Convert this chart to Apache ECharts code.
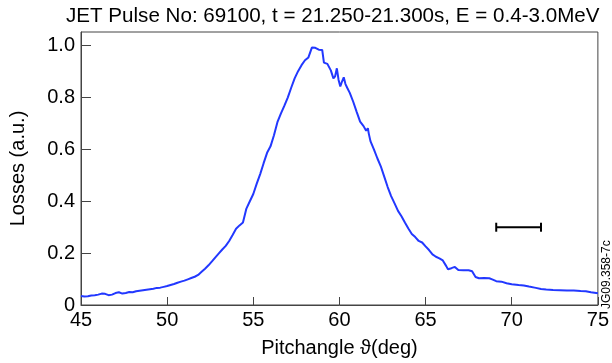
<!DOCTYPE html>
<html><head><meta charset="utf-8">
<script src="https://cdn.jsdelivr.net/npm/echarts@6/dist/echarts.min.js"></script>
<style>html,body{margin:0;padding:0;background:#fff}#c{width:612px;height:363px}</style>
</head><body><div id="c"></div>
<script>
const titleText = 'JET Pulse No: 69100, t = 21.250-21.300s, E = 0.4-3.0MeV';
const xName = 'Pitchangle \u03d1(deg)';
const yName = 'Losses (a.u.)';
const sideNote = 'JG09.358-7c';
const pitchAngle = [45.0,45.2,45.4,45.6,45.8,46.0,46.2,46.4,46.6,46.8,47.0,47.2,47.4,47.6,47.8,48.0,48.2,48.4,48.6,48.8,49.0,49.2,49.4,49.6,49.8,50.0,50.2,50.4,50.6,50.8,51.0,51.2,51.4,51.6,51.8,52.0,52.2,52.4,52.6,52.8,53.0,53.2,53.4,53.6,53.8,54.0,54.2,54.4,54.6,54.8,55.0,55.2,55.4,55.6,55.8,56.0,56.2,56.4,56.6,56.8,57.0,57.2,57.4,57.6,57.8,58.0,58.2,58.3,58.4,58.5,58.6,58.8,59.0,59.1,59.3,59.5,59.65,59.75,59.85,59.95,60.05,60.15,60.25,60.35,60.45,60.6,60.8,61.0,61.2,61.4,61.55,61.65,61.7,61.8,62.0,62.2,62.4,62.6,62.8,63.0,63.2,63.4,63.6,63.8,64.0,64.2,64.4,64.6,64.8,65.0,65.2,65.4,65.6,65.8,66.0,66.2,66.3,66.5,66.7,66.9,67.2,67.5,67.7,67.9,68.1,68.4,68.7,68.9,69.1,69.4,69.7,70.0,70.4,70.7,71.0,71.4,71.7,72.0,72.4,72.8,73.2,73.6,74.0,74.3,74.6,75.0];
const losses = [0.035,0.033,0.034,0.037,0.038,0.040,0.044,0.043,0.038,0.040,0.046,0.049,0.044,0.046,0.050,0.049,0.053,0.055,0.057,0.059,0.061,0.063,0.066,0.067,0.070,0.073,0.077,0.081,0.086,0.090,0.094,0.099,0.104,0.109,0.116,0.128,0.140,0.153,0.168,0.184,0.199,0.214,0.228,0.247,0.270,0.294,0.307,0.318,0.372,0.400,0.428,0.468,0.505,0.547,0.587,0.612,0.655,0.705,0.738,0.768,0.800,0.838,0.874,0.902,0.925,0.944,0.955,0.960,0.993,0.998,0.992,0.985,0.984,0.935,0.930,0.905,0.874,0.882,0.913,0.868,0.843,0.862,0.878,0.852,0.838,0.818,0.784,0.745,0.707,0.690,0.672,0.682,0.662,0.632,0.600,0.566,0.535,0.495,0.455,0.420,0.392,0.363,0.342,0.318,0.295,0.274,0.262,0.247,0.241,0.226,0.212,0.195,0.186,0.180,0.172,0.150,0.138,0.142,0.147,0.135,0.134,0.134,0.130,0.108,0.103,0.104,0.103,0.098,0.092,0.090,0.084,0.080,0.077,0.075,0.071,0.066,0.062,0.060,0.058,0.057,0.056,0.056,0.054,0.053,0.049,0.045];
const errorBarX = [69.1, 71.7];
const errorBarY = [0.3, 0.3];
const xMin = 45, xMax = 75, xStep = 5;
const yMin = 0, yMax = 1.053, yStep = 0.2;

const chart = echarts.init(document.getElementById('c'));
const font = 'Liberation Sans, Arial, sans-serif';
chart.setOption({
  animation: false,
  backgroundColor: '#fff',
  title: {text: titleText, left: 66, top: 6, padding: 0, textStyle: {fontFamily: font, fontSize: 20.6, fontWeight: 'normal', color: '#000'}},
  grid: {left: 78, right: 13, top: 32, bottom: 54, show: true, borderColor: '#444', borderWidth: 1},
  xAxis: {
    type: 'value', min: xMin, max: xMax, interval: xStep,
    name: xName, nameLocation: 'middle', nameGap: 33,
    nameTextStyle: {fontFamily: font, fontSize: 20, color: '#000'},
    axisLine: {lineStyle: {color: '#444'}},
    axisTick: {inside: true, length: 8, lineStyle: {color: '#444'}},
    axisLabel: {fontFamily: font, fontSize: 20, color: '#000', margin: 5},
    splitLine: {show: false}
  },
  yAxis: {
    type: 'value', min: yMin, max: yMax, interval: yStep,
    name: yName, nameLocation: 'middle', nameGap: 53, nameRotate: 90,
    nameTextStyle: {fontFamily: font, fontSize: 20, color: '#000'},
    axisLine: {lineStyle: {color: '#444'}},
    axisTick: {inside: true, length: 10, lineStyle: {color: '#444'}},
    axisLabel: {fontFamily: font, fontSize: 20, color: '#000', margin: 6, showMaxLabel: false,
      formatter: v => (Math.abs(v / yStep - Math.round(v / yStep)) > 1e-6) ? '' : (v === 0 ? '0' : v.toFixed(1))},
    splitLine: {show: false}
  },
  series: [
    {type: 'line', data: pitchAngle.map((x, i) => [x, losses[i]]), showSymbol: false,
     lineStyle: {color: '#2238ff', width: 2}, silent: true},
    {type: 'line', data: errorBarX.map((x, i) => [x, errorBarY[i]]), symbol: 'rect', symbolSize: [2, 9],
     itemStyle: {color: '#000'}, lineStyle: {color: '#000', width: 2}, silent: true}
  ],
  graphic: [{type: 'text', x: 601, y: 309, rotation: Math.PI / 2,
    style: {text: sideNote, font: '12px Liberation Sans, Arial, sans-serif', fill: '#000', textAlign: 'left', textVerticalAlign: 'top'}}]
});
</script></body></html>
